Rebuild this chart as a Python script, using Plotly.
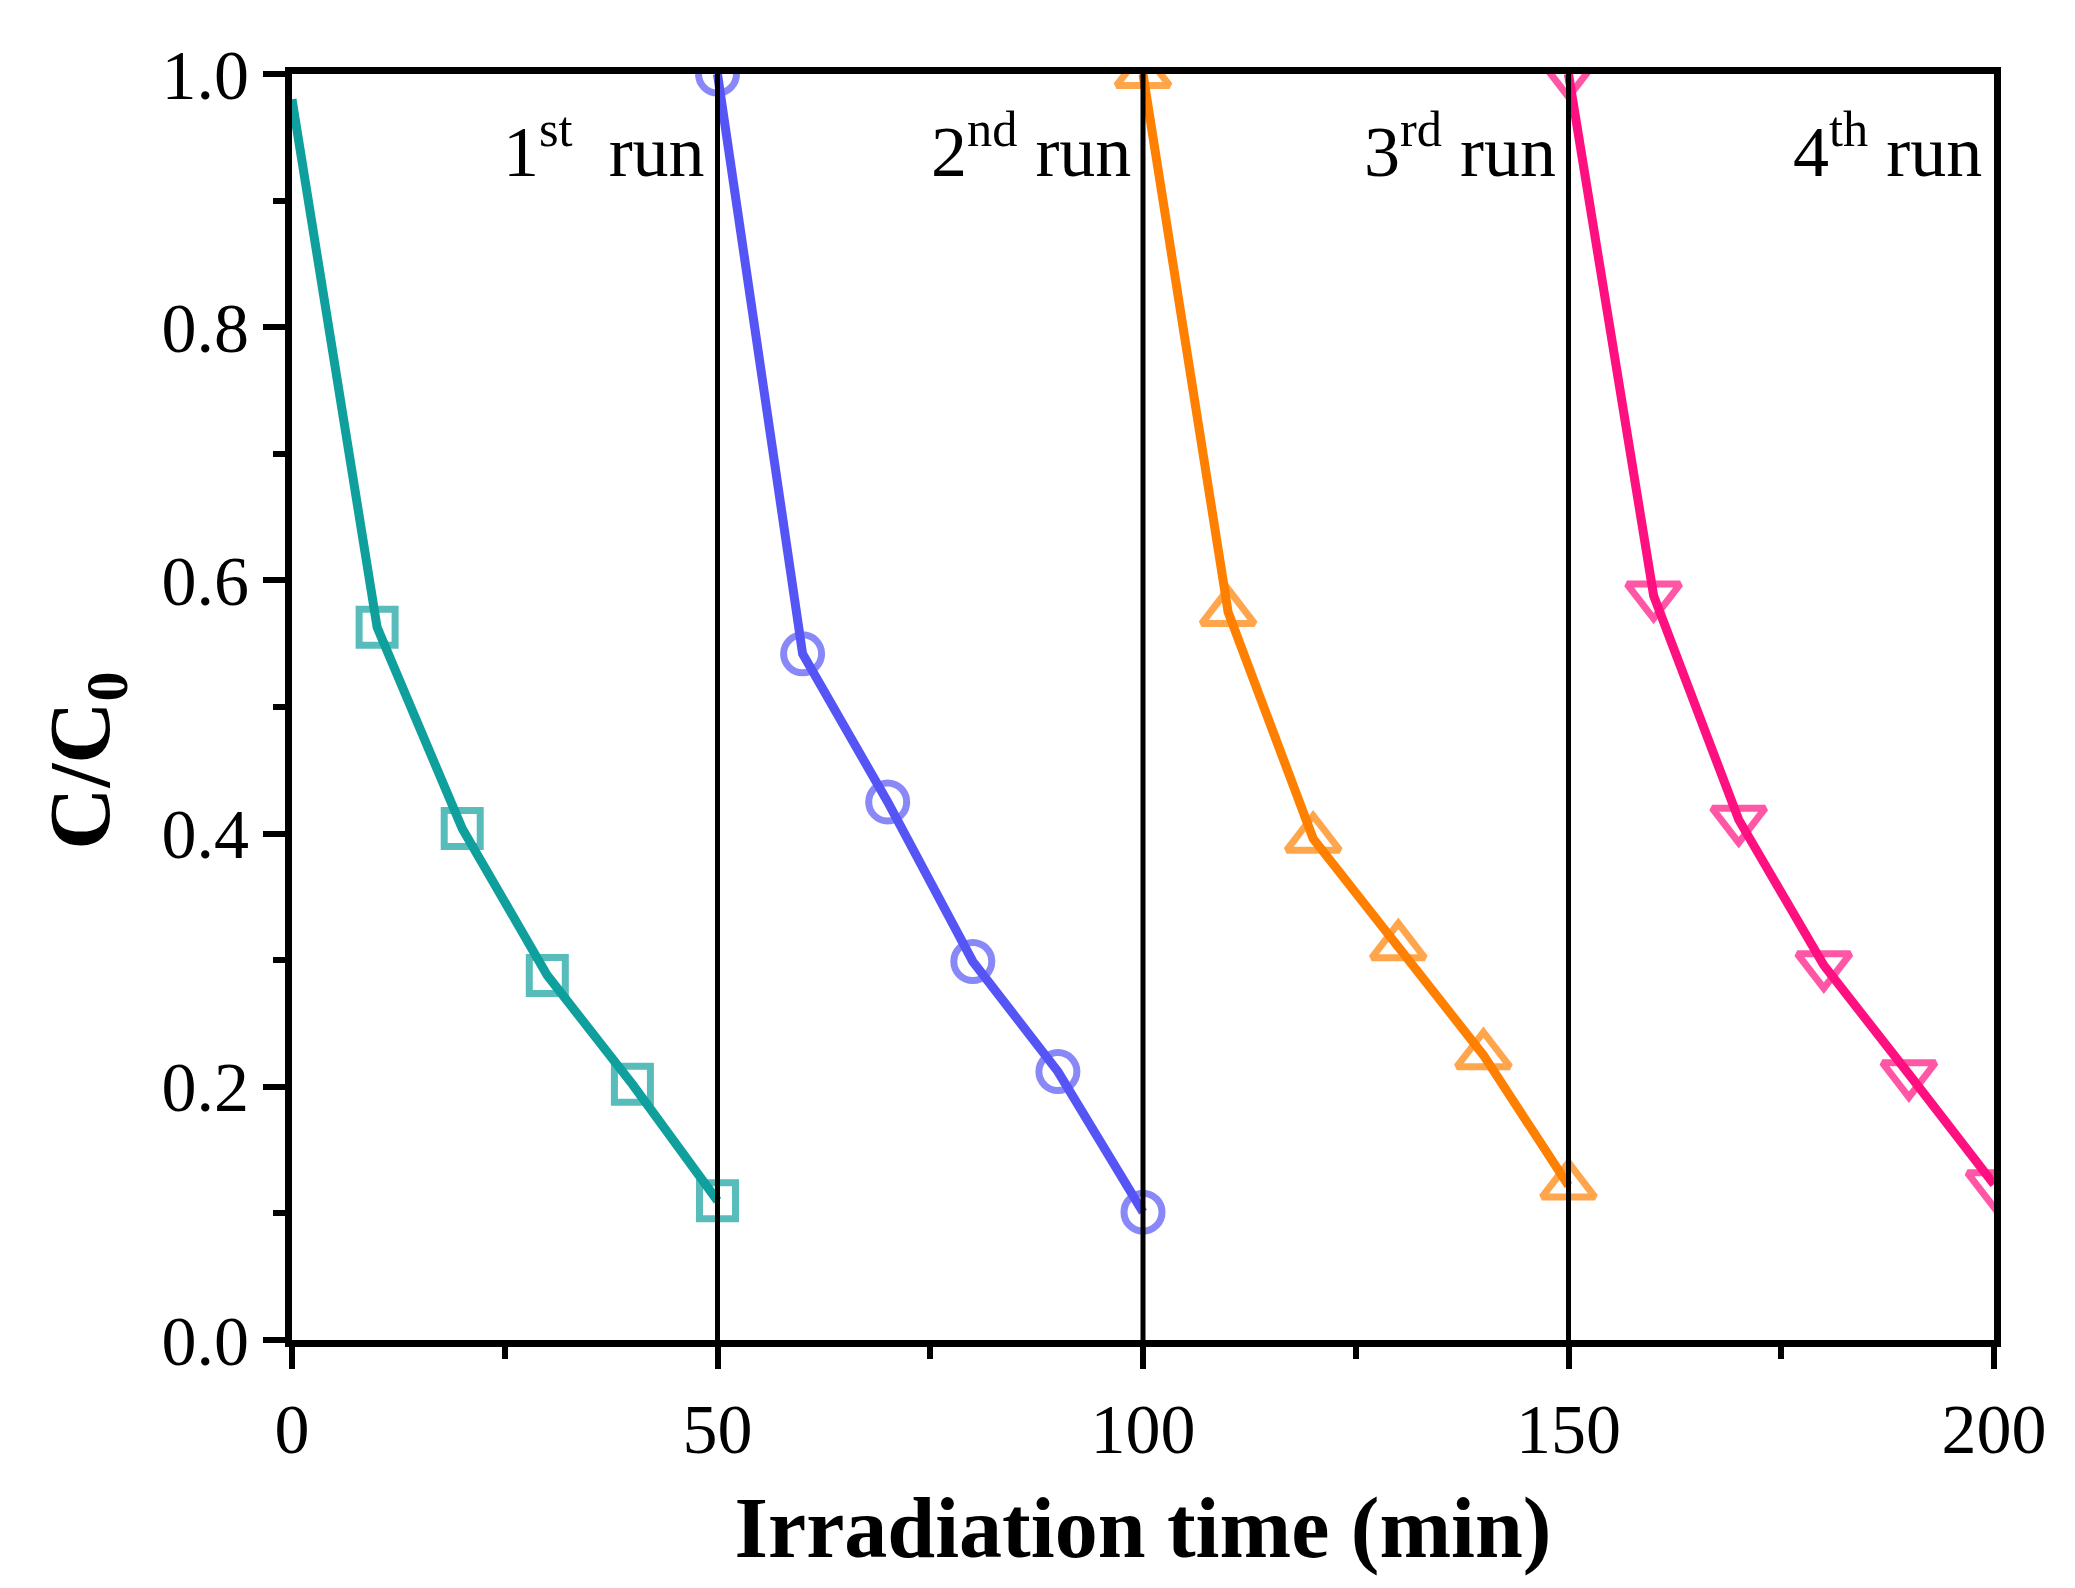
import plotly.graph_objects as go

# Data
run1_x = [0, 10, 20, 30, 40, 50]
run1_y = [0.98, 0.563, 0.404, 0.288, 0.202, 0.110]
run2_x = [50, 60, 70, 80, 90, 100]
run2_y = [1.0, 0.542, 0.425, 0.299, 0.212, 0.101]
run3_x = [100, 110, 120, 130, 140, 150]
run3_y = [1.0, 0.575, 0.396, 0.311, 0.225, 0.122]
run4_x = [150, 160, 170, 180, 190, 200]
run4_y = [1.0, 0.588, 0.411, 0.296, 0.210, 0.123]
run_nums = ["1", "2", "3", "4"]
run_sups = ["st", "nd", "rd", "th"]
run_ends = [50, 100, 150, 200]
x_ticks = [0, 50, 100, 150, 200]
y_ticks = [0.0, 0.2, 0.4, 0.6, 0.8, 1.0]

FONT = "Liberation Serif, Times New Roman, serif"

series = [
    (run1_x, run1_y, "#0FA09D", "square-open", 36),
    (run2_x, run2_y, "#5555F5", "circle-open", 38),
    (run3_x, run3_y, "#FF8000", "triangle-up-open", 46),
    (run4_x, run4_y, "#FF1080", "triangle-down-open", 46),
]

fig = go.Figure()
for i, (xs, ys, col, sym, sz) in enumerate(series):
    sizes = [sz] * len(xs)
    if i == 0:
        sizes[0] = 0
    fig.add_trace(go.Scatter(
        x=xs, y=ys, mode="lines+markers",
        line=dict(color=col, width=9),
        marker=dict(symbol=sym, size=sizes, color=col, line=dict(color=col, width=7)),
        cliponaxis=True, showlegend=False,
    ))

for xv in run_ends[:-1]:
    fig.add_shape(type="line", xref="x", yref="paper", x0=xv, x1=xv, y0=0, y1=1,
                  line=dict(color="black", width=5), layer="above")

gaps = ["\u00a0", "", "", ""]
for num, sup, gap, xe in zip(run_nums, run_sups, gaps, run_ends):
    fig.add_annotation(x=xe - 1.2, y=0.905, xref="x", yref="y",
                       text=num + "<sup>" + sup + "</sup>" + gap + " run",
                       showarrow=False, xanchor="right", yanchor="bottom",
                       font=dict(family=FONT, size=72, color="black"))

axis_common = dict(
    showline=True, linewidth=7, linecolor="black", mirror=True,
    ticks="outside", ticklen=22, tickwidth=6, tickcolor="black",
    showgrid=False, zeroline=False,
    tickfont=dict(family=FONT, size=70, color="black"),
)

fig.update_xaxes(range=[0, 200], tickvals=x_ticks,
                 minor=dict(dtick=25, ticks="outside", ticklen=12, tickwidth=6, tickcolor="black"),
                 title=dict(text="<b>Irradiation time (min)</b>", standoff=32,
                            font=dict(family=FONT, size=86, color="black")),
                 **axis_common)
fig.update_yaxes(range=[0, 1.0], tickvals=y_ticks, tickformat=".1f",
                 minor=dict(dtick=0.1, ticks="outside", ticklen=12, tickwidth=6, tickcolor="black"),
                 **axis_common)

fig.add_annotation(x=(86 - 292) / (2075 - 292 - 81), y=0.4576, xref="paper", yref="paper",
                   xanchor="center", yanchor="middle",
                   text="<b>C/C<sub>0</sub></b>", textangle=-90, showarrow=False,
                   font=dict(family=FONT, size=86, color="black"))

fig.update_layout(
    width=2075, height=1588,
    margin=dict(l=292, r=81, t=74, b=248),
    paper_bgcolor="white", plot_bgcolor="white",
)

fig.write_html("out.html")
